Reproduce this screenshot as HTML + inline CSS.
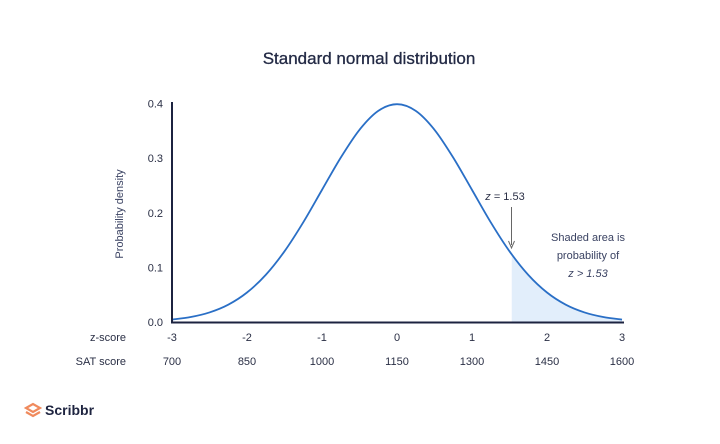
<!DOCTYPE html>
<html><head><meta charset="utf-8"><style>
html,body{margin:0;padding:0;background:#fff;}
svg{display:block;font-family:"Liberation Sans",sans-serif;}
</style></head><body>
<svg id="chart" width="720" height="444" viewBox="0 0 720 444">
<rect x="0" y="0" width="720" height="444" fill="#fff"/>
<text x="369" y="64" text-anchor="middle" font-size="17" fill="#232a45" stroke="#232a45" stroke-width="0.3">Standard normal distribution</text>
<text transform="translate(123,214) rotate(-90)" text-anchor="middle" font-size="11" fill="#3a4262">Probability density</text>
<text x="126" y="341" text-anchor="end" font-size="11" fill="#2a2f45">z-score</text>
<text x="126" y="365" text-anchor="end" font-size="11" fill="#2a2f45">SAT score</text>
<g id="shade"></g>
<g id="curve"></g>
<line x1="172" y1="102" x2="172" y2="323" stroke="#1c2340" stroke-width="2"/>
<line x1="171" y1="322.5" x2="624" y2="322.5" stroke="#1c2340" stroke-width="2"/>
<g id="yticks"></g><g id="xticks"></g>
<text x="505" y="200" text-anchor="middle" font-size="11" fill="#2a2f45"><tspan font-style="italic">z</tspan> = 1.53</text>
<line x1="511.5" y1="207" x2="511.5" y2="245" stroke="#666" stroke-width="1"/>
<path d="M508.5,241 L511.5,248 L514.5,241" fill="none" stroke="#666" stroke-width="1"/>
<text x="588" y="241" text-anchor="middle" font-size="11" fill="#3a4262">Shaded area is</text>
<text x="588" y="259" text-anchor="middle" font-size="11" fill="#3a4262">probability of</text>
<text x="588" y="277" text-anchor="middle" font-size="11" font-style="italic" fill="#3a4262">z &gt; 1.53</text>
<g>
<path d="M26,408 L33,404 L40,408 L33,412 Z M26,412 L33,416 L40,412" fill="none" stroke="#f08a5d" stroke-width="2.2"/>
<text x="45" y="415" font-size="14" font-weight="bold" fill="#1e2440">Scribbr</text>
</g>
</svg>
<script>
const zValues=[-3,-2.75,-2.5,-2.25,-2,-1.75,-1.5,-1.25,-1,-0.75,-0.5,-0.25,0,0.25,0.5,0.75,1,1.25,1.5,1.75,2,2.25,2.5,2.75,3];
const densityValues=[0.0044,0.0091,0.0175,0.0317,0.054,0.0863,0.1295,0.1826,0.242,0.3011,0.3521,0.3867,0.3989,0.3867,0.3521,0.3011,0.242,0.1826,0.1295,0.0863,0.054,0.0317,0.0175,0.0091,0.0044];
const yTickValues=[0,0.1,0.2,0.3,0.4];
const yTickLabels=["0.0","0.1","0.2","0.3","0.4"];
const zTicks=[-3,-2,-1,0,1,2,3];
const satLabels=["700","850","1000","1150","1300","1450","1600"];
const zCut=1.53;
const NS="http://www.w3.org/2000/svg";
function xs(z){return 397+z*75;}
function ys(v){return 322-v*546;}
function mk(tag,attrs,parent){const e=document.createElementNS(NS,tag);for(const k in attrs)e.setAttribute(k,attrs[k]);parent.appendChild(e);return e;}
function smooth(pts){let d="M"+pts[0][0]+","+pts[0][1];for(let i=0;i<pts.length-1;i++){const p0=pts[Math.max(0,i-1)],p1=pts[i],p2=pts[i+1],p3=pts[Math.min(pts.length-1,i+2)];const c1=[p1[0]+(p2[0]-p0[0])/6,p1[1]+(p2[1]-p0[1])/6];const c2=[p2[0]-(p3[0]-p1[0])/6,p2[1]-(p3[1]-p1[1])/6];d+=" C"+c1[0]+","+c1[1]+" "+c2[0]+","+c2[1]+" "+p2[0]+","+p2[1];}return d;}
const pts=zValues.map((z,i)=>[xs(z),ys(densityValues[i])]);
const curve=mk("path",{d:smooth(pts),fill:"none",stroke:"#2a6fc6","stroke-width":"1.8"},document.getElementById("curve"));


let k=zValues.findIndex(z=>z>zCut);
const t=(zCut-zValues[k-1])/(zValues[k]-zValues[k-1]);
const vCut=densityValues[k-1]+t*(densityValues[k]-densityValues[k-1]);
const sp=[[xs(zCut),ys(vCut)]];
for(let i=k;i<zValues.length;i++)sp.push([xs(zValues[i]),ys(densityValues[i])]);
const sd=smooth(sp)+" L"+xs(zValues[zValues.length-1])+","+ys(0)+" L"+xs(zCut)+","+ys(0)+" Z";
const shade=mk("path",{d:sd,fill:"#e2eefb",stroke:"none"},document.getElementById("shade"));


const yg=document.getElementById("yticks");
yTickValues.forEach((v,i)=>{const e=mk("text",{x:163,y:ys(v)+4,"text-anchor":"end","font-size":"11",fill:"#2a2f45"},yg);e.textContent=yTickLabels[i];

});
const xg=document.getElementById("xticks");
zTicks.forEach((z,i)=>{const a=mk("text",{x:xs(z),y:341,"text-anchor":"middle","font-size":"11",fill:"#2a2f45"},xg);a.textContent=String(z);


const b=mk("text",{x:xs(z),y:365,"text-anchor":"middle","font-size":"11",fill:"#2a2f45"},xg);b.textContent=satLabels[i];

});
</script>
</body></html>
